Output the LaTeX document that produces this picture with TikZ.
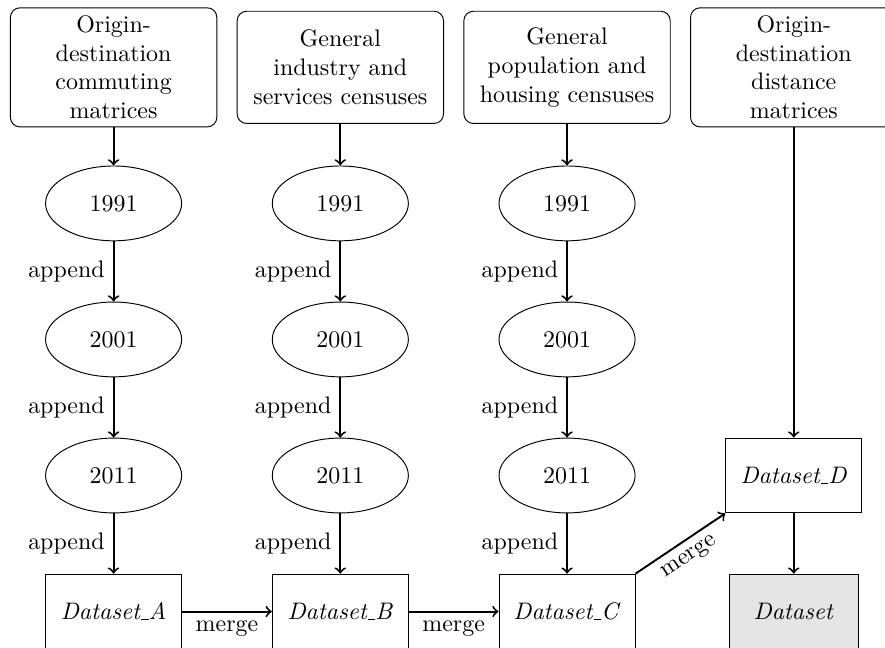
\documentclass[tikz,border=0pt]{standalone}
\usepackage{tikz}
\usetikzlibrary{shapes.geometric, arrows}
\newcommand{\lowbar}{\leavevmode\kern.06em\vbox{\hrule width.3em}}
\tikzstyle{src} = [rectangle, rounded corners, text width=2.8cm, minimum height=1.65cm, text centered, draw=black]
\tikzstyle{yr} = [ellipse, minimum width=2cm, minimum height=1.1cm, text centered, draw=black]
\tikzstyle{dset} = [rectangle, minimum width=2cm, minimum height=1.1cm, text centered, draw=black]
\tikzstyle{result} = [rectangle, minimum width=1.9cm, minimum height=1.1cm, text centered, draw=black, fill=gray!20]
\tikzstyle{arrow} = [thick,->]
\begin{document}
\begin{tikzpicture}[node distance=2cm]
\useasboundingbox (-1.67,0.99) rectangle (11.34,-8.53);
\node (comm) [src] {Origin-\\destination\\commuting\\matrices};
\node (ind) [src, right of=comm, xshift=1.333cm] {General\\industry and\\services censuses};
\node (pop) [src, right of=ind, xshift=1.333cm] {General\\population and\\housing censuses};
\node (dist) [src, right of=pop, xshift=1.333cm] {Origin-\\destination\\distance\\matrices};

\node (ca) [yr, below of=comm] {1991};
\node (cb) [yr, below of=ca] {2001};
\node (cc) [yr, below of=cb] {2011};
\node (dsA) [dset, below of=cc] {\textit{Dataset\lowbar A}};

\node (ia) [yr, below of=ind] {1991};
\node (ib) [yr, below of=ia] {2001};
\node (ic) [yr, below of=ib] {2011};
\node (dsB) [dset, below of=ic] {\textit{Dataset\lowbar B}};

\node (pa) [yr, below of=pop] {1991};
\node (pb) [yr, below of=pa] {2001};
\node (pc) [yr, below of=pb] {2011};
\node (dsC) [dset, below of=pc] {\textit{Dataset\lowbar C}};

\node (dsD) [dset, below of=dist, yshift=-4cm] {\textit{Dataset\lowbar D}};
\node (ds) [result, below of=dsD] {\textit{Dataset}};

\draw [arrow] (comm) -- (ca);
\draw [arrow] (ca) -- node[left] {append} (cb);
\draw [arrow] (cb) -- node[left] {append} (cc);
\draw [arrow] (cc) -- node[left] {append} (dsA);

\draw [arrow] (ind) -- (ia);
\draw [arrow] (ia) -- node[left] {append} (ib);
\draw [arrow] (ib) -- node[left] {append} (ic);
\draw [arrow] (ic) -- node[left] {append} (dsB);

\draw [arrow] (pop) -- (pa);
\draw [arrow] (pa) -- node[left] {append} (pb);
\draw [arrow] (pb) -- node[left] {append} (pc);
\draw [arrow] (pc) -- node[left] {append} (dsC);

\draw [arrow] (dsA) -- node[below] {merge} (dsB);
\draw [arrow] (dsB) -- node[below] {merge} (dsC);
\draw [arrow] (dsC.north east) -- node[below, sloped] {merge} (dsD.south west);
\draw [arrow] (dist) -- (dsD);
\draw [arrow] (dsD) -- (ds);
\end{tikzpicture}
\end{document}
